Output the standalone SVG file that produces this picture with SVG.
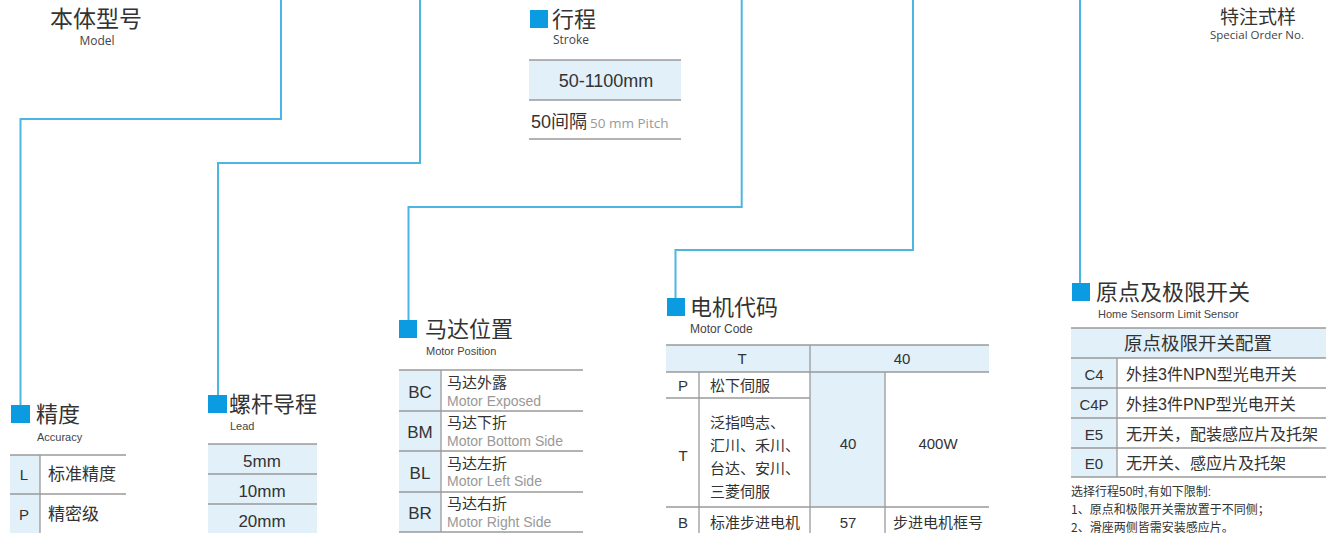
<svg xmlns="http://www.w3.org/2000/svg" width="1326" height="533" viewBox="0 0 1326 533">
<style>
text{font-family:"Liberation Sans","Noto Sans CJK SC",sans-serif;fill:#333}
.cn{font-family:"Noto Sans CJK SC",sans-serif}
.os{font-family:"Open Sans","Noto Sans",sans-serif}
.t{font-size:22px}
.en{font-size:11px;fill:#444}
.c{text-anchor:middle}
.cell{font-size:15px}
.code{font-size:17px}
.gr{fill:#999}
.sq{fill:#0a9be0}
.bg{fill:#e2f0fa}
.ln{stroke:#9a9a9a;stroke-width:1.3;fill:none}
.con{stroke:#4db5e2;stroke-width:2;fill:none}
.note{font-size:12px}
</style>
<rect width="1326" height="533" fill="#fff"/>
<g id="connectors">
<polyline class="con" points="281,0 281,119 20.5,119 20.5,406"/>
<polyline class="con" points="420,0 420,163 218,163 218,396"/>
<polyline class="con" points="741.7,0 741.7,207 408.5,207 408.5,321"/>
<polyline class="con" points="913,0 913,250 675.5,250 675.5,299"/>
<polyline class="con" points="1080,0 1080,284"/>
</g>
<g id="model">
<text class="cn" x="50" y="27" style="font-size:23px">本体型号</text>
<text class="en c os" x="97" y="45" style="font-size:12px">Model</text>
</g>
<g id="special">
<text class="cn c" x="1258" y="24" style="font-size:19px">特注式样</text>
<text class="en c os" x="1257" y="39" style="font-size:11.5px">Special Order No.</text>
</g>
<g id="stroke">
<rect class="sq" x="530" y="10" width="18" height="18"/>
<text class="cn t" x="552" y="27">行程</text>
<text class="en os" x="553" y="44" style="font-size:12px">Stroke</text>
<rect class="bg" x="529" y="60" width="152" height="40"/>
<line class="ln" x1="529" y1="60" x2="681" y2="60"/>
<line class="ln" x1="529" y1="100" x2="681" y2="100"/>
<line class="ln" x1="529" y1="139" x2="681" y2="139"/>
<text class="c" x="606" y="87" style="font-size:18px">50-1100mm</text>
<text x="531" y="128" style="font-size:18px">50间隔<tspan class="gr os" style="font-size:13.5px" dx="3">50 mm Pitch</tspan></text>
</g>
<g id="accuracy">
<rect class="sq" x="11" y="405" width="19" height="18"/>
<text class="cn t" x="36" y="422">精度</text>
<text class="en" x="37" y="441">Accuracy</text>
<rect class="bg" x="10" y="455" width="30" height="78"/>
<line class="ln" x1="10" y1="455" x2="126" y2="455"/>
<line class="ln" x1="10" y1="494" x2="126" y2="494"/>
<line class="ln" x1="40" y1="455" x2="40" y2="533"/>
<text class="cell c" x="24" y="480">L</text>
<text class="cell cn" x="48" y="480" style="font-size:17px">标准精度</text>
<text class="cell c" x="24" y="520">P</text>
<text class="cell cn" x="48" y="520" style="font-size:17px">精密级</text>
</g>
<g id="lead">
<rect class="sq" x="208" y="395" width="19" height="18"/>
<text class="cn t" x="229" y="412">螺杆导程</text>
<text class="en" x="230" y="430">Lead</text>
<rect class="bg" x="208" y="444" width="109" height="89"/>
<line class="ln" x1="208" y1="444" x2="317" y2="444"/>
<line class="ln" x1="208" y1="474" x2="317" y2="474"/>
<line class="ln" x1="208" y1="504" x2="317" y2="504"/>
<text class="code c" x="262" y="467">5mm</text>
<text class="code c" x="262" y="497">10mm</text>
<text class="code c" x="262" y="527">20mm</text>
</g>
<g id="motor-position">
<rect class="sq" x="399" y="320" width="18" height="18"/>
<text class="cn t" x="425" y="337">马达位置</text>
<text class="en" x="426" y="355">Motor Position</text>
<rect class="bg" x="399" y="370" width="42" height="162"/>
<line class="ln" x1="399" y1="370" x2="583" y2="370"/>
<line class="ln" x1="399" y1="411" x2="583" y2="411"/>
<line class="ln" x1="399" y1="451" x2="583" y2="451"/>
<line class="ln" x1="399" y1="492" x2="583" y2="492"/>
<line class="ln" x1="399" y1="532" x2="583" y2="532"/>
<line class="ln" x1="441" y1="370" x2="441" y2="532"/>
<text class="code c" x="420" y="398">BC</text>
<text class="code c" x="420" y="438">BM</text>
<text class="code c" x="420" y="479">BL</text>
<text class="code c" x="420" y="519">BR</text>
<text class="cell cn" x="447" y="388">马达外露</text>
<text class="gr" x="447" y="406" style="font-size:14px">Motor Exposed</text>
<text class="cell cn" x="447" y="428">马达下折</text>
<text class="gr" x="447" y="446" style="font-size:14px">Motor Bottom Side</text>
<text class="cell cn" x="447" y="469">马达左折</text>
<text class="gr" x="447" y="486" style="font-size:14px">Motor Left Side</text>
<text class="cell cn" x="447" y="509">马达右折</text>
<text class="gr" x="447" y="527" style="font-size:14px">Motor Right Side</text>
</g>
<g id="motor-code">
<rect class="sq" x="667" y="298" width="18" height="18"/>
<text class="cn t" x="690" y="315">电机代码</text>
<text class="en" x="690" y="333" style="font-size:12px">Motor Code</text>
<rect class="bg" x="666" y="345" width="323" height="27"/>
<rect class="bg" x="810" y="372" width="75" height="135"/>
<line class="ln" x1="666" y1="345" x2="989" y2="345"/>
<line class="ln" x1="666" y1="372" x2="989" y2="372"/>
<line class="ln" x1="666" y1="398" x2="810" y2="398"/>
<line class="ln" x1="666" y1="507" x2="989" y2="507"/>
<line class="ln" x1="810" y1="345" x2="810" y2="533"/>
<line class="ln" x1="885" y1="372" x2="885" y2="533"/>
<line class="ln" x1="699" y1="372" x2="699" y2="533"/>
<text class="cell c" x="742" y="364">T</text>
<text class="cell c" x="902" y="364">40</text>
<text class="cell c" x="683" y="391">P</text>
<text class="cell cn" x="710" y="391">松下伺服</text>
<text class="cell c" x="683" y="461">T</text>
<text class="cell cn" x="710" y="428">泛指鸣志、</text>
<text class="cell cn" x="710" y="451">汇川、禾川、</text>
<text class="cell cn" x="710" y="474">台达、安川、</text>
<text class="cell cn" x="710" y="497">三菱伺服</text>
<text class="cell c" x="848" y="449">40</text>
<text class="cell c" x="938" y="449">400W</text>
<text class="cell c" x="683" y="528">B</text>
<text class="cell cn" x="710" y="528">标准步进电机</text>
<text class="cell c" x="848" y="528">57</text>
<text class="cell cn c" x="938" y="528">步进电机框号</text>
</g>
<g id="home-sensor">
<rect class="sq" x="1072" y="283" width="18" height="18"/>
<text class="cn t" x="1096" y="300">原点及极限开关</text>
<text class="en" x="1098" y="318">Home Sensorm Limit Sensor</text>
<rect class="bg" x="1071" y="328" width="255" height="30"/>
<rect class="bg" x="1071" y="358" width="46" height="119"/>
<line class="ln" x1="1071" y1="328" x2="1326" y2="328"/>
<line class="ln" x1="1071" y1="358" x2="1326" y2="358"/>
<line class="ln" x1="1071" y1="388" x2="1326" y2="388"/>
<line class="ln" x1="1071" y1="418" x2="1326" y2="418"/>
<line class="ln" x1="1071" y1="448" x2="1326" y2="448"/>
<line class="ln" x1="1071" y1="477" x2="1326" y2="477"/>
<line class="ln" x1="1117" y1="358" x2="1117" y2="477"/>
<text class="cn c" x="1198" y="350" style="font-size:18.5px">原点极限开关配置</text>
<text class="cell c" x="1094" y="380">C4</text>
<text class="cell c" x="1094" y="410">C4P</text>
<text class="cell c" x="1094" y="440">E5</text>
<text class="cell c" x="1094" y="469">E0</text>
<text class="cell" x="1126" y="380" style="font-size:16px">外挂3件NPN型光电开关</text>
<text class="cell" x="1126" y="410" style="font-size:16px">外挂3件PNP型光电开关</text>
<text class="cell cn" x="1126" y="440" style="font-size:16px">无开关，配装感应片及托架</text>
<text class="cell cn" x="1126" y="469" style="font-size:16px">无开关、感应片及托架</text>
<text class="note" x="1071" y="496">选择行程50时,有如下限制:</text>
<text class="note cn" x="1071" y="514">1、原点和极限开关需放置于不同侧；</text>
<text class="note cn" x="1071" y="532">2、滑座两侧皆需安装感应片。</text>
</g>
</svg>
